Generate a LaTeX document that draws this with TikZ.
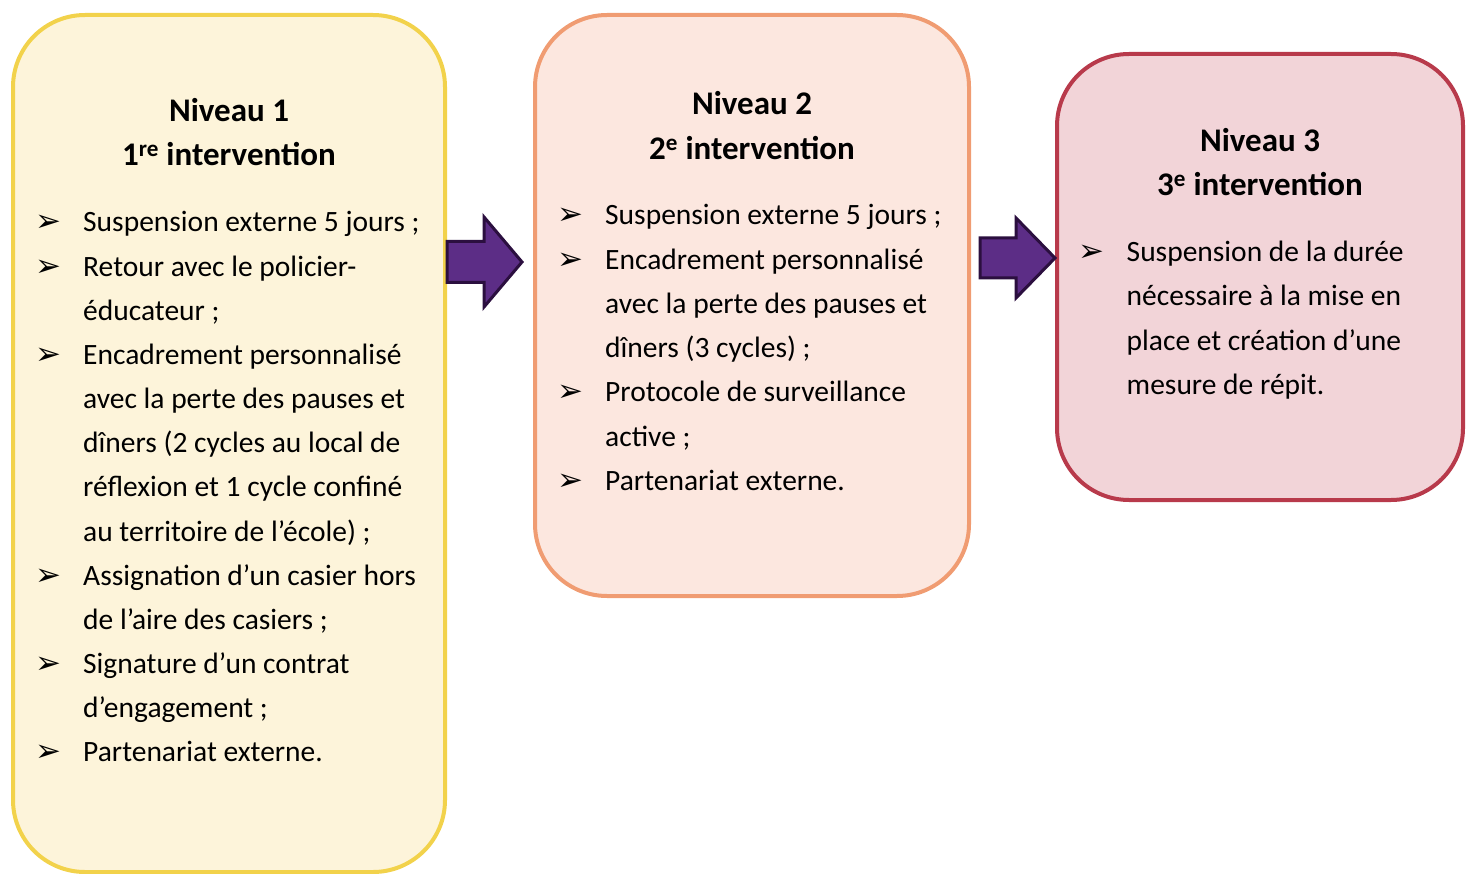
\documentclass[tikz,border=0pt]{standalone}
\usepackage{fontspec}
\setmainfont{Carlito}
\newfontfamily\bulfont{DejaVu Sans}
\definecolor{yelB}{HTML}{F2D24B}
\definecolor{yelF}{HTML}{FDF4DA}
\definecolor{salB}{HTML}{F09C72}
\definecolor{salF}{HTML}{FCE7DF}
\definecolor{redB}{HTML}{B83A4B}
\definecolor{redF}{HTML}{F2D4D8}
\definecolor{arrF}{HTML}{5C2D86}
\definecolor{arrB}{HTML}{2B0F3F}
\newcommand\itemline[4]{\node[itm] (#1) at (#2,#3) {#4};}
\newcommand\bulletmark[3]{\node[bul] (#1) at (#2,#3) {➢};}
\begin{document}
\begin{tikzpicture}[x=1pt,y=-1pt,
  box/.style={draw, line width=4pt, rounded corners=72pt, inner sep=0pt},
  ttl/.style={font=\bfseries\fontsize{33}{38}\selectfont, anchor=base, inner sep=0pt},
  itm/.style={font=\fontsize{29.5}{35}\selectfont, anchor=base west, inner sep=0pt},
  bul/.style={font=\bulfont\fontsize{31}{31}\selectfont, anchor=base west, inner sep=0pt},
  bigarrow/.style={draw=arrB, fill=arrF, line width=3pt, line join=miter}]
\useasboundingbox (0,0) rectangle (1469,874);
% boxes
\node[box, draw=yelB, fill=yelF, minimum width=432pt, minimum height=857pt] (b1) at (229,443.5) {};
\node[box, draw=salB, fill=salF, minimum width=434pt, minimum height=581pt] (b2) at (752,305.5) {};
\node[box, draw=redB, fill=redF, minimum width=406pt, minimum height=446pt] (b3) at (1260,277) {};
% arrows
\coordinate (a1s) at (b1.east |- 0,262);
\coordinate (a1e) at (522,262);
\coordinate (a2s) at (980,258);
\coordinate (a2e) at (b3.west |- 0,258);
\draw[bigarrow] ([yshift=20.5pt]a1s) -- ([xshift=-38pt,yshift=20.5pt]a1e) -- ([xshift=-38pt,yshift=45pt]a1e) -- (a1e)
  -- ([xshift=-38pt,yshift=-45pt]a1e) -- ([xshift=-38pt,yshift=-20.5pt]a1e) -- ([yshift=-20.5pt]a1s) -- cycle;
\draw[bigarrow] ([yshift=20pt]a2s) -- ([xshift=-39pt,yshift=20pt]a2e) -- ([xshift=-39pt,yshift=40pt]a2e) -- (a2e)
  -- ([xshift=-39pt,yshift=-40pt]a2e) -- ([xshift=-39pt,yshift=-20pt]a2e) -- ([yshift=-20pt]a2s) -- cycle;
% box 1 text
\node[ttl] (t1a) at (229,121.7) {Niveau 1};
\node[ttl] (t1b) at (229,165.7) {1\textsuperscript{re} intervention};
\bulletmark{p1a}{35}{232}
\itemline{l1a}{83}{232}{Suspension externe 5 jours ;}
\bulletmark{p1b}{35}{276.15}
\itemline{l1b}{83}{276.15}{Retour avec le policier-}
\itemline{l1c}{83}{320.3}{éducateur ;}
\bulletmark{p1c}{35}{364.45}
\itemline{l1d}{83}{364.45}{Encadrement personnalisé}
\itemline{l1e}{83}{408.6}{avec la perte des pauses et}
\itemline{l1f}{83}{452.75}{dîners (2 cycles au local de}
\itemline{l1g}{83}{496.9}{réflexion et 1 cycle confiné}
\itemline{l1h}{83}{541.05}{au territoire de l’école) ;}
\bulletmark{p1d}{35}{585.2}
\itemline{l1i}{83}{585.2}{Assignation d’un casier hors}
\itemline{l1j}{83}{629.35}{de l’aire des casiers ;}
\bulletmark{p1e}{35}{673.5}
\itemline{l1k}{83}{673.5}{Signature d’un contrat}
\itemline{l1l}{83}{717.65}{d’engagement ;}
\bulletmark{p1f}{35}{761.8}
\itemline{l1m}{83}{761.8}{Partenariat externe.}
% box 2 text
\node[ttl] (t2a) at (752,115) {Niveau 2};
\node[ttl] (t2b) at (752,159.5) {2\textsuperscript{e} intervention};
\bulletmark{p2a}{557}{225}
\itemline{l2a}{605}{225}{Suspension externe 5 jours ;}
\bulletmark{p2b}{557}{269.2}
\itemline{l2b}{605}{269.2}{Encadrement personnalisé}
\itemline{l2c}{605}{313.4}{avec la perte des pauses et}
\itemline{l2d}{605}{357.6}{dîners (3 cycles) ;}
\bulletmark{p2c}{557}{401.8}
\itemline{l2e}{605}{401.8}{Protocole de surveillance}
\itemline{l2f}{605}{446}{active ;}
\bulletmark{p2d}{557}{490.2}
\itemline{l2g}{605}{490.2}{Partenariat externe.}
% box 3 text
\node[ttl] (t3a) at (1260,151.7) {Niveau 3};
\node[ttl] (t3b) at (1260,196) {3\textsuperscript{e} intervention};
\bulletmark{p3a}{1078}{261.7}
\itemline{l3a}{1126.5}{261.7}{Suspension de la durée}
\itemline{l3b}{1126.5}{306}{nécessaire à la mise en}
\itemline{l3c}{1126.5}{350.4}{place et création d’une}
\itemline{l3d}{1126.5}{394.8}{mesure de répit.}
\end{tikzpicture}
\end{document}
